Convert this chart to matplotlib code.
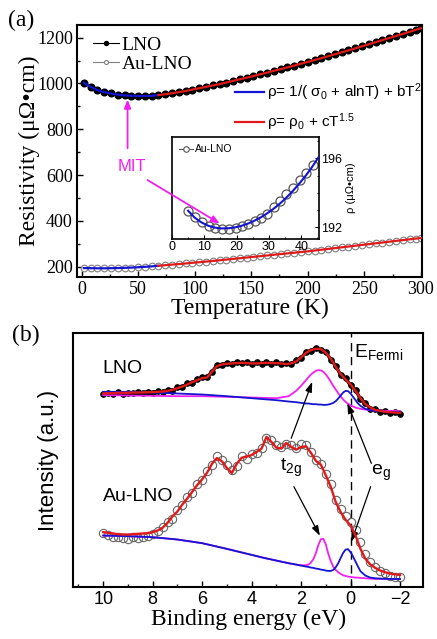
import numpy as np
import matplotlib
matplotlib.use("Agg")
import matplotlib.pyplot as plt
from matplotlib.ticker import MultipleLocator
from matplotlib.lines import Line2D

SERIF = "Liberation Serif"
SANS = "Liberation Sans"
BLUE = "#1414d2"
RED = "#e01a1a"
MAG = "#f020f0"

plt.rcParams["mathtext.fontset"] = "custom"
plt.rcParams["mathtext.rm"] = SANS
plt.rcParams["mathtext.it"] = SANS + ":italic"
plt.rcParams["mathtext.bf"] = SANS + ":bold"

# ---------------- panel (a) data ----------------
T = [2, 8, 14, 20, 26, 32, 38, 44, 50, 56, 62, 68, 74, 80, 86, 92, 98, 104, 110, 116,
     122, 128, 134, 140, 146, 152, 158, 164, 170, 176, 182, 188, 194, 200, 206, 212,
     218, 224, 230, 236, 242, 248, 254, 260, 266, 272, 278, 284, 290, 296, 300]
rho_lno = [1003, 985, 971, 962, 956, 951, 948, 946, 945, 945, 946, 949, 953, 957, 962,
           967, 973, 979, 985, 991, 997, 1004, 1011, 1018, 1025, 1032, 1040, 1047, 1055,
           1062, 1070, 1078, 1086, 1094, 1102, 1110, 1119, 1127, 1136, 1144, 1153, 1162,
           1171, 1180, 1189, 1198, 1207, 1216, 1225, 1235, 1241]
rho_au = [194, 193.5, 193, 193, 193.4, 194, 195, 196, 197.5, 199.5, 201.5, 204, 206.5,
          209, 211.5, 214, 217, 219.5, 222, 225, 228, 231, 234, 237, 240, 243, 246, 249,
          252, 255, 258, 261, 264, 267, 270.5, 274, 277.5, 281, 284.5, 288, 291.5, 295,
          298.5, 302, 305.5, 309, 312.5, 316, 319.5, 323, 325]
T_split = 68  # boundary between low-T fit (blue) and high-T fit (red)

# inset data
T_in = [5, 7, 9.2, 11.3, 13.4, 15.5, 17.6, 19.7, 21.7, 23.6, 25.6, 27.5, 29.5, 31.5,
        33.4, 35.4, 37.5, 39.5, 41.6, 43.6]
rho_in = [192.94, 192.58, 192.27, 192.06, 191.94, 191.9, 191.9, 191.96, 192.04, 192.2,
          192.35, 192.55, 192.78, 193.17, 193.52, 193.95, 194.3, 194.73, 195.16, 195.6]
T_in_fit = [5, 7, 9, 11, 13, 15, 17, 19, 21, 23, 25, 27, 29, 31, 33, 35, 37, 39, 41,
            43, 45.4]
rho_in_fit = [192.95, 192.55, 192.28, 192.09, 191.97, 191.92, 191.92, 191.96, 192.04,
              192.16, 192.32, 192.51, 192.74, 193.0, 193.3, 193.64, 194.02, 194.44,
              194.9, 195.4, 196.08]

# ---------------- panel (b) data ----------------
E = [10.0, 9.8, 9.6, 9.4, 9.2, 9.0, 8.8, 8.6, 8.4, 8.2, 8.0, 7.8, 7.6, 7.4, 7.2, 7.0,
     6.8, 6.6, 6.4, 6.2, 6.0, 5.8, 5.6, 5.4, 5.2, 5.0, 4.8, 4.6, 4.4, 4.2, 4.0, 3.8,
     3.6, 3.4, 3.2, 3.0, 2.8, 2.6, 2.4, 2.2, 2.0, 1.8, 1.6, 1.4, 1.2, 1.0, 0.8, 0.6,
     0.4, 0.2, 0.0, -0.2, -0.4, -0.6, -0.8, -1.0, -1.2, -1.4, -1.6, -1.8, -2.0]
lno_data = [578, 582, 579, 584, 580, 583, 581, 585, 582, 586, 583, 587, 585, 590, 589,
            598, 600, 610, 612, 622, 628, 630, 645, 665, 665, 672, 668, 674, 670, 674,
            668, 673, 669, 675, 668, 673, 668, 671, 668, 679, 686, 705, 708, 717, 711,
            705, 681, 663, 635, 625, 604, 591, 563, 551, 535, 534, 526, 527, 522, 525, 520]
lno_fit = [580, 581, 581, 582, 582, 582, 583, 583, 583, 584, 584, 585, 586, 588, 591,
           596, 601, 607, 614, 620, 626, 628, 646, 662, 667, 669, 670, 671, 672, 671,
           670, 670, 671, 672, 671, 671, 670, 668, 670, 676, 688, 702, 710, 714, 713,
           702, 684, 660, 638, 622, 607, 588, 566, 548, 538, 531, 528, 525, 524, 523, 522]
au_data = [162, 158, 150, 152, 148, 145, 150, 147, 152, 155, 160, 168, 180, 195, 205,
           230, 245, 270, 282, 310, 320, 348, 365, 392, 382, 365, 352, 362, 392, 385,
           400, 402, 418, 446, 440, 425, 420, 430, 425, 418, 428, 425, 405, 382, 370,
           340, 310, 262, 235, 212, 195, 170, 135, 100, 75, 60, 50, 42, 35, 32, 30]
au_fit = [165, 163, 161, 159, 158, 158, 159, 160, 161, 162, 165, 170, 178, 193, 212,
          227, 248, 266, 286, 306, 323, 343, 370, 387, 377, 357, 342, 370, 388, 391,
          396, 405, 415, 450, 435, 418, 415, 432, 420, 412, 420, 422, 402, 378, 367,
          335, 300, 255, 225, 202, 185, 155, 115, 85, 68, 58, 50, 45, 41, 39, 37]

Ec = [10, 9, 8, 7, 6, 5, 4, 3.5, 3, 2.5, 2.2, 2.0, 1.8, 1.7, 1.6, 1.5, 1.4, 1.3, 1.2,
      1.1, 1.0, 0.9, 0.8, 0.7, 0.6, 0.5, 0.4, 0.3, 0.2, 0.1, 0.0, -0.1, -0.2, -0.3,
      -0.4, -0.6, -0.8, -1.0, -1.5, -2.0]
lno_t2g = [575, 574, 573, 572, 572, 570, 568, 567, 566, 572, 588, 603, 620, 629, 637,
           643, 648, 650, 649, 645, 637, 627, 615, 603, 592, 581, 571, 562, 555, 549,
           545, 541, 538, 536, 534, 532, 530, 529, 528, 528]
lno_eg = [585, 585, 583, 580, 577, 572, 566, 563, 560, 556, 554, 552, 550, 550, 549,
          548, 548, 547, 547, 546, 546, 547, 549, 552, 557, 565, 574, 583, 588, 587,
          580, 570, 560, 550, 543, 534, 530, 528, 525, 525]
au_t2g = [155, 153, 150, 143, 132, 115, 97, 88, 80, 72, 68, 66, 66, 68, 74, 85, 103,
          127, 144, 145, 128, 100, 78, 62, 52, 45, 40, 36, 34, 32, 31, 30, 29, 29, 28,
          27, 26, 25, 25, 25]
au_eg = [155, 153, 150, 143, 132, 115, 97, 88, 80, 72, 68, 65, 62, 61, 59, 58, 56, 55,
         53, 52, 50, 49, 49, 52, 60, 72, 88, 103, 113, 114, 105, 92, 77, 62, 48, 35, 29,
         27, 25, 25]

# ---------------- figure ----------------
W, H = 437, 639
fig = plt.figure(figsize=(W / 100, H / 100), dpi=100)


def frac(x0, y0, x1, y1):
    return [x0 / W, 1 - y1 / H, (x1 - x0) / W, (y1 - y0) / H]


ax = fig.add_axes(frac(77, 25, 422, 277))
T_arr = np.array(T)
lno_arr = np.array(rho_lno)
au_arr = np.array(rho_au)
ax.plot(T, rho_lno, "-", color="black", lw=0.8, marker="o", ms=4.8, mfc="black",
        mec="black", zorder=2, label="LNO")
ax.plot(T, rho_au, "-", color="#808080", lw=0.8, marker="o", ms=4.8, mfc="white",
        mec="#808080", mew=0.8, zorder=2, label="Au-LNO")
lo = T_arr <= T_split
hi = T_arr >= T_split
ax.plot(T_arr[lo], lno_arr[lo], color=BLUE, lw=1.6, zorder=3)
ax.plot(T_arr[hi], lno_arr[hi], color=RED, lw=1.6, zorder=3)
ax.plot(T_arr[lo], au_arr[lo], color=BLUE, lw=1.6, zorder=3)
ax.plot(T_arr[hi], au_arr[hi], color=RED, lw=1.6, zorder=3)

ax.set_xlim(-4, 301)
ax.set_ylim(155, 1255)
ax.xaxis.set_major_locator(MultipleLocator(50))
ax.xaxis.set_minor_locator(MultipleLocator(25))
ax.yaxis.set_major_locator(MultipleLocator(200))
ax.yaxis.set_minor_locator(MultipleLocator(100))
ax.tick_params(which="both", direction="in", top=False, right=False)
ax.tick_params(which="major", length=4, width=1.0, labelsize=13, pad=3)
ax.tick_params(which="minor", length=2.5, width=1.0)
for lab in ax.get_xticklabels() + ax.get_yticklabels():
    lab.set_fontfamily(SERIF)
for s in ax.spines.values():
    s.set_linewidth(1.5)
ax.set_xlabel("Temperature (K)", fontfamily=SERIF, fontsize=17, labelpad=0)
ax.set_ylabel("Resistivity (μΩ•cm)", fontfamily=SERIF, fontsize=17, labelpad=-2)

leg1 = ax.legend(loc="upper left", bbox_to_anchor=(0.025, 0.985), frameon=False,
                 prop={"family": SERIF, "size": 14}, handlelength=1.3,
                 handletextpad=0.15, labelspacing=0.05, borderaxespad=0,
                 markerscale=0.6)
ax.add_artist(leg1)
h1, = ax.plot([], [], color=BLUE, lw=1.6)
h2, = ax.plot([], [], color=RED, lw=1.6)
ax.legend([h1, h2], [r"ρ= 1/( σ$_{\mathregular{0}}$ + alnT) + bT$^{\mathregular{2}}$",
                     r"ρ= ρ$_{\mathregular{0}}$ + cT$^{\mathregular{1.5}}$"],
          loc="upper left", bbox_to_anchor=(0.44, 0.80), frameon=False,
          prop={"family": SANS, "size": 11}, handlelength=1.9, handletextpad=0.2,
          labelspacing=0.55, borderaxespad=0)

# MIT annotation
ax.text(45, 637, "MIT", color=MAG, fontsize=12, fontfamily=SANS, ha="center",
        va="center")
ax.annotate("", xy=(40.7, 942), xytext=(40.7, 705),
            arrowprops=dict(arrowstyle="-|>,head_length=0.5,head_width=0.2",
                            color=MAG, lw=1.3))

# inset
axi = fig.add_axes(frac(172, 137, 319, 239))
axi.plot(T_in, rho_in, "o", ms=6.5, mfc="none", mec="#555555", mew=0.9, zorder=2)
axi.plot(T_in_fit, rho_in_fit, color=BLUE, lw=1.5, zorder=3)
axi.set_xlim(0, 45.5)
axi.set_ylim(191.3, 197.25)
axi.xaxis.set_major_locator(MultipleLocator(10))
axi.xaxis.set_minor_locator(MultipleLocator(5))
axi.yaxis.set_major_locator(MultipleLocator(4))
axi.yaxis.set_minor_locator(MultipleLocator(1))
axi.yaxis.tick_right()
axi.yaxis.set_label_position("right")
axi.tick_params(which="both", direction="in", top=False, left=False, right=True)
axi.tick_params(which="major", length=3, labelsize=9, pad=1.5)
axi.tick_params(which="minor", length=1.8)
for lab in axi.get_xticklabels() + axi.get_yticklabels():
    lab.set_fontfamily(SANS)
for s in axi.spines.values():
    s.set_linewidth(1.2)
axi.set_ylabel("ρ (μΩ•cm)", fontfamily=SANS, fontsize=8, labelpad=3)
hin = Line2D([], [], color="#555555", lw=0.8, marker="o", ms=4, mfc="white",
             mec="#555555", mew=0.8)
axi.legend([hin], ["Au-LNO"], loc="upper left", bbox_to_anchor=(0.0, 1.0),
           frameon=False, prop={"family": SANS, "size": 7.5}, handlelength=1.3,
           handletextpad=0.2, borderaxespad=0.3)
axi.annotate("", xy=(14.8, 192.2), xytext=(58.4, 578), textcoords=ax.transData,
             annotation_clip=False,
             arrowprops=dict(arrowstyle="-|>,head_length=0.5,head_width=0.2",
                             color=MAG, lw=1.3, shrinkA=0, shrinkB=0))

fig.text(8 / W, 1 - 20 / H, "(a)", fontfamily=SERIF, fontsize=17, va="center")

# ---------------- panel (b) ----------------
bx = fig.add_axes(frac(73.3, 332.7, 423.3, 587.3))
bx.plot(E, lno_data, "-", color="black", lw=2.4, zorder=2)
bx.plot(E, lno_data, "o", color="black", ms=3.8, zorder=2)
bx.plot(E, lno_fit, color=RED, lw=1.7, zorder=4)
bx.plot(Ec, lno_t2g, color=MAG, lw=1.3, zorder=3)
bx.plot(Ec, lno_eg, color=BLUE, lw=1.3, zorder=3)
bx.plot(E, au_data, "o", ms=6, mfc="none", mec="#666666", mew=0.8, zorder=2)
bx.plot(E, au_fit, color=RED, lw=1.7, zorder=4)
bx.plot(Ec, au_t2g, color=MAG, lw=1.3, zorder=3)
bx.plot(Ec, au_eg, color=BLUE, lw=1.3, zorder=3)
bx.axvline(0, color="black", lw=1.0, ls=(0, (6, 4)), zorder=1)

bx.set_xlim(11.21, -2.94)
bx.set_ylim(0, 762)
bx.xaxis.set_major_locator(MultipleLocator(2))
bx.xaxis.set_minor_locator(MultipleLocator(1))
bx.set_yticks([])
bx.tick_params(which="both", direction="in", top=False)
bx.tick_params(which="major", length=4, width=1.0, labelsize=13, pad=3)
bx.tick_params(which="minor", length=2.5, width=1.0)
for lab in bx.get_xticklabels():
    lab.set_fontfamily(SANS)
for s in bx.spines.values():
    s.set_linewidth(1.5)
bx.set_xlabel("Binding energy (eV)", fontfamily=SERIF, fontsize=17, labelpad=0)
bx.set_ylabel("Intensity (a.u.)", fontfamily=SANS, fontsize=16, labelpad=10)

bx.text(10.02, 656, "LNO", fontfamily=SANS, fontsize=14, ha="left", va="center")
bx.text(10.02, 273, "Au-LNO", fontfamily=SANS, fontsize=14, ha="left", va="center")
bx.text(2.42, 357, r"t$_{\mathregular{2g}}$", fontfamily=SANS, fontsize=14,
        ha="center", va="center")
bx.text(-1.21, 342, r"e$_{\mathregular{g}}$", fontfamily=SANS, fontsize=14,
        ha="center", va="center")
bx.text(-0.12, 704, r"E$_{\mathregular{Fermi}}$", fontfamily=SANS, fontsize=14,
        ha="left", va="center")

arw = dict(arrowstyle="-|>,head_length=0.6,head_width=0.2", color="black", lw=0.9,
           shrinkA=0, shrinkB=0)
bx.annotate("", xy=(1.55, 615), xytext=(2.40, 446), arrowprops=arw)
bx.annotate("", xy=(1.24, 154), xytext=(2.29, 301), arrowprops=arw)
bx.annotate("", xy=(0.13, 551), xytext=(-0.84, 371), arrowprops=arw)
bx.annotate("", xy=(-0.03, 136), xytext=(-0.81, 301), arrowprops=arw)

fig.text(12 / W, 1 - 335 / H, "(b)", fontfamily=SERIF, fontsize=17, va="center")

fig.savefig("out.png", dpi=100)
